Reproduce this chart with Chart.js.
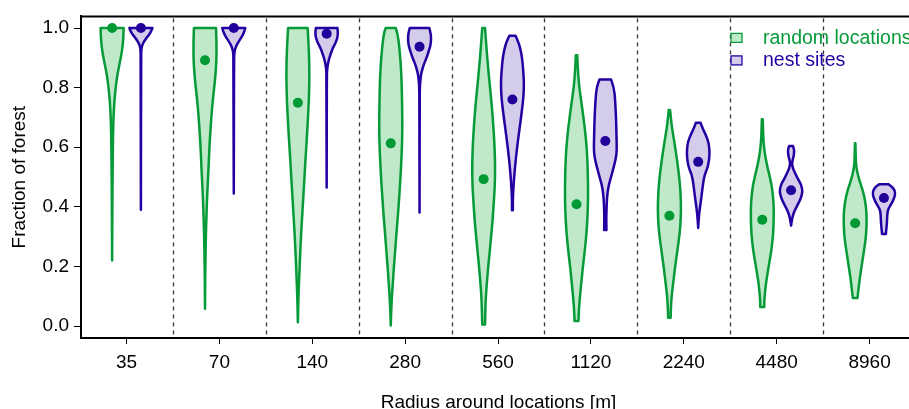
<!DOCTYPE html>
<html>
<head>
<meta charset="utf-8">
<script src="https://cdn.jsdelivr.net/npm/chart.js@4.4.1/dist/chart.umd.min.js"></script>
<style>
  html, body { margin: 0; padding: 0; background: #fff; overflow: hidden; }
  #wrap { position: relative; width: 909px; height: 409px; overflow: hidden; }
  #chart { position: absolute; left: 0; top: 0; }
</style>
</head>
<body>
<div id="wrap"><canvas id="chart" width="921" height="418"></canvas></div>
<script>
// Radius categories (x axis)
const radii = ['35', '70', '140', '280', '560', '1120', '2240', '4480', '8960'];
const yTicks = [0, 0.2, 0.4, 0.6, 0.8, 1.0];

// Medians (dots)
const randomMedians = [1.0, 0.892, 0.749, 0.613, 0.493, 0.409, 0.370, 0.357, 0.345];
const nestMedians = [1.0, 1.0, 0.981, 0.937, 0.760, 0.621, 0.551, 0.456, 0.430];

// Violin outlines: [fraction of forest, relative density], top to bottom
const randomProfiles = [
    [[1.0,1.0],[0.96,0.97],[0.92,0.85],[0.89,0.7],[0.866,0.57],[0.84,0.45],[0.81,0.34],[0.78,0.26],[0.755,0.2],[0.72,0.15],[0.70,0.12],[0.64,0.08],[0.55,0.05],[0.45,0.03],[0.35,0.015],[0.22,0.0]],
    [[1.0,0.96],[0.95,1.0],[0.9,1.0],[0.85,0.93],[0.8,0.8],[0.755,0.67],[0.7,0.55],[0.643,0.45],[0.59,0.37],[0.532,0.31],[0.47,0.23],[0.42,0.17],[0.36,0.12],[0.31,0.08],[0.25,0.05],[0.197,0.03],[0.13,0.01],[0.058,0.0]],
    [[1.0,0.85],[0.93,0.95],[0.866,1.0],[0.81,0.99],[0.755,0.95],[0.7,0.88],[0.643,0.8],[0.59,0.71],[0.532,0.62],[0.47,0.53],[0.42,0.45],[0.36,0.36],[0.309,0.28],[0.25,0.21],[0.197,0.15],[0.14,0.09],[0.086,0.04],[0.013,0.0]],
    [[1.0,0.44],[0.98,0.61],[0.93,0.76],[0.866,0.89],[0.81,0.95],[0.755,0.98],[0.7,1.0],[0.643,1.0],[0.59,0.96],[0.532,0.89],[0.47,0.8],[0.42,0.71],[0.36,0.6],[0.309,0.49],[0.25,0.38],[0.197,0.27],[0.14,0.17],[0.086,0.08],[0.04,0.03],[0.002,0.0]],
    [[1.0,0.12],[0.93,0.25],[0.866,0.39],[0.81,0.53],[0.755,0.67],[0.7,0.79],[0.643,0.89],[0.59,0.96],[0.532,1.0],[0.47,0.97],[0.42,0.89],[0.36,0.79],[0.309,0.67],[0.25,0.53],[0.197,0.39],[0.14,0.27],[0.086,0.17],[0.005,0.12]],
    [[0.909,0.06],[0.86,0.12],[0.81,0.21],[0.755,0.41],[0.7,0.6],[0.643,0.78],[0.59,0.9],[0.532,0.97],[0.47,1.0],[0.42,1.0],[0.36,0.95],[0.309,0.86],[0.25,0.71],[0.197,0.55],[0.14,0.4],[0.086,0.27],[0.05,0.2],[0.017,0.17]],
    [[0.725,0.06],[0.68,0.17],[0.643,0.32],[0.588,0.55],[0.532,0.75],[0.476,0.92],[0.42,1.0],[0.365,1.0],[0.309,0.89],[0.253,0.69],[0.197,0.49],[0.142,0.32],[0.086,0.15],[0.028,0.11]],
    [[0.694,0.04],[0.643,0.07],[0.588,0.17],[0.532,0.45],[0.476,0.81],[0.42,0.98],[0.365,1.0],[0.309,0.95],[0.253,0.79],[0.197,0.54],[0.142,0.31],[0.086,0.17],[0.064,0.17]],
    [[0.613,0.02],[0.56,0.05],[0.532,0.1],[0.5,0.28],[0.476,0.48],[0.45,0.7],[0.42,0.87],[0.39,0.96],[0.365,1.0],[0.309,0.97],[0.253,0.77],[0.197,0.54],[0.142,0.34],[0.094,0.2]]
];
const nestProfiles = [
    [[1.0,1.0],[0.99,0.9],[0.978,0.72],[0.968,0.5],[0.96,0.37],[0.95,0.2],[0.94,0.1],[0.93,0.04],[0.9,0.01],[0.39,0.0]],
    [[1.0,1.0],[0.99,0.93],[0.978,0.8],[0.965,0.6],[0.955,0.44],[0.945,0.28],[0.934,0.15],[0.92,0.06],[0.9,0.02],[0.445,0.0]],
    [[1.0,0.94],[0.98,1.0],[0.96,0.88],[0.945,0.7],[0.93,0.5],[0.911,0.33],[0.895,0.2],[0.878,0.1],[0.86,0.04],[0.844,0.015],[0.465,0.0]],
    [[1.0,0.85],[0.98,0.98],[0.965,1.0],[0.945,0.97],[0.93,0.86],[0.911,0.71],[0.895,0.55],[0.878,0.37],[0.86,0.23],[0.844,0.13],[0.82,0.06],[0.8,0.03],[0.755,0.01],[0.381,0.0]],
    [[0.974,0.27],[0.95,0.55],[0.922,0.74],[0.895,0.85],[0.866,0.92],[0.84,0.97],[0.81,1.0],[0.78,0.97],[0.755,0.92],[0.7,0.75],[0.643,0.55],[0.588,0.37],[0.532,0.22],[0.476,0.1],[0.42,0.03],[0.389,0.04]],
    [[0.827,0.51],[0.8,0.76],[0.755,0.86],[0.7,0.93],[0.643,0.97],[0.588,1.0],[0.56,0.9],[0.532,0.72],[0.5,0.5],[0.476,0.32],[0.45,0.2],[0.42,0.13],[0.365,0.08],[0.322,0.1]],
    [[0.682,0.2],[0.66,0.42],[0.643,0.64],[0.625,0.82],[0.61,0.93],[0.577,1.0],[0.543,0.89],[0.525,0.75],[0.51,0.59],[0.49,0.47],[0.465,0.38],[0.42,0.24],[0.376,0.07],[0.329,0.0]],
    [[0.604,0.17],[0.595,0.25],[0.582,0.27],[0.565,0.2],[0.548,0.07],[0.53,0.15],[0.51,0.38],[0.49,0.65],[0.476,0.86],[0.454,1.0],[0.435,0.9],[0.42,0.74],[0.4,0.48],[0.387,0.3],[0.37,0.15],[0.354,0.06],[0.337,0.0]],
    [[0.476,0.4],[0.465,0.8],[0.448,1.0],[0.43,0.9],[0.41,0.65],[0.398,0.45],[0.387,0.33],[0.37,0.28],[0.354,0.27],[0.33,0.22],[0.32,0.19],[0.309,0.17]]
];

const groups = [
    { label: 'random locations', profiles: randomProfiles, medians: randomMedians,
      offset: -0.155, stroke: '#069a38', fill: '#bfe9c9', dot: '#009933' },
    { label: 'nest sites', profiles: nestProfiles, medians: nestMedians,
      offset: 0.155, stroke: '#2400a2', fill: '#d3cceb', dot: '#22009a' }
];
const violinHalfWidth = 0.124;

Chart.defaults.font.family = "'Liberation Sans', Arial, sans-serif";
Chart.defaults.font.size = 19;
Chart.defaults.color = '#000';

// smooth one side of a violin through its points
function smoothSide(ctx, pts) {
    for (let i = 1; i < pts.length - 1; i++) {
        const mx = (pts[i][0] + pts[i + 1][0]) / 2;
        const my = (pts[i][1] + pts[i + 1][1]) / 2;
        ctx.quadraticCurveTo(pts[i][0], pts[i][1], mx, my);
    }
    ctx.lineTo(pts[pts.length - 1][0], pts[pts.length - 1][1]);
}

const violinPlugin = {
    id: 'violins',
    beforeDatasetsDraw(chart) {
        const ctx = chart.ctx;
        const xs = chart.scales.x, ys = chart.scales.y;
        const area = chart.chartArea;

        // dashed separators between radius groups
        ctx.save();
        ctx.strokeStyle = '#3a3a3a';
        ctx.lineWidth = 1.3;
        ctx.setLineDash([4, 4]);
        for (let i = 0; i < radii.length - 1; i++) {
            const x = Math.round(xs.getPixelForValue(i + 0.5)) + 0.5;
            ctx.beginPath();
            ctx.moveTo(x, area.top + 2);
            ctx.lineTo(x, area.bottom);
            ctx.stroke();
        }
        ctx.restore();

        const hw = xs.getPixelForValue(violinHalfWidth) - xs.getPixelForValue(0);
        groups.forEach(g => {
            g.profiles.forEach((prof, i) => {
                const cx = xs.getPixelForValue(i + g.offset);
                const right = prof.map(([v, d]) => [cx + d * hw, ys.getPixelForValue(v)]);
                const left = prof.map(([v, d]) => [cx - d * hw, ys.getPixelForValue(v)]).reverse();
                ctx.save();
                ctx.beginPath();
                ctx.moveTo(left[left.length - 1][0], left[left.length - 1][1]);
                ctx.lineTo(right[0][0], right[0][1]);
                smoothSide(ctx, right);
                ctx.lineTo(left[0][0], left[0][1]);
                smoothSide(ctx, left);
                ctx.closePath();
                ctx.fillStyle = g.fill;
                ctx.fill();
                ctx.lineWidth = 2.5;
                ctx.lineJoin = 'round';
                ctx.strokeStyle = g.stroke;
                ctx.stroke();
                ctx.restore();
            });
        });
    },
    afterDraw(chart) {
        const ctx = chart.ctx;
        const area = chart.chartArea;
        // top frame line
        ctx.save();
        ctx.strokeStyle = '#000';
        ctx.lineWidth = 2;
        ctx.beginPath();
        ctx.moveTo(area.left - 1, area.top);
        ctx.lineTo(area.right, area.top);
        ctx.stroke();

        // legend inside plot, top right
        const lx = area.right - 185;
        let ly = area.top + 17;
        ctx.font = "19.5px 'Liberation Sans', Arial, sans-serif";
        ctx.textBaseline = 'middle';
        groups.forEach(g => {
            ctx.fillStyle = g.fill;
            ctx.fillRect(lx, ly, 11, 9);
            ctx.strokeStyle = g.stroke;
            ctx.lineWidth = 1.3;
            ctx.strokeRect(lx, ly, 11, 9);
            ctx.fillStyle = g.stroke;
            ctx.fillText(g.label, lx + 32, ly + 5);
            ly += 22.5;
        });
        ctx.restore();
    }
};

const datasets = groups.map(g => ({
    label: g.label,
    data: g.medians.map((m, i) => ({ x: i + g.offset, y: m })),
    pointRadius: 5,
    pointBorderWidth: 0,
    pointBackgroundColor: g.dot,
    showLine: false
}));

new Chart(document.getElementById('chart'), {
    type: 'scatter',
    data: { datasets: datasets },
    plugins: [violinPlugin],
    options: {
        responsive: false,
        animation: false,
        devicePixelRatio: 1,
        layout: { padding: { top: 15, right: 2, bottom: 0, left: 0 } },
        plugins: { legend: { display: false }, tooltip: { enabled: false } },
        scales: {
            x: {
                type: 'linear',
                min: -0.49,
                max: 8.5,
                afterFit: (scale) => { scale.height = 80; },
                afterBuildTicks: (scale) => { scale.ticks = radii.map((r, i) => ({ value: i })); },
                ticks: {
                    padding: 7,
                    callback: (value) => radii[value]
                },
                grid: { drawOnChartArea: false, drawTicks: true, tickLength: 6, tickColor: '#000', tickWidth: 1 },
                border: { display: true, color: '#000', width: 2 },
                title: {
                    display: true,
                    text: 'Radius around locations [m]',
                    padding: { top: 0, bottom: 4 }
                }
            },
            y: {
                min: -0.04,
                max: 1.039,
                afterFit: (scale) => { scale.width = 81; },
                afterBuildTicks: (scale) => { scale.ticks = yTicks.map(v => ({ value: v })); },
                ticks: {
                    padding: 5,
                    callback: (value) => value.toFixed(1)
                },
                grid: { drawOnChartArea: false, drawTicks: true, tickLength: 7, tickColor: '#000', tickWidth: 1 },
                border: { display: true, color: '#000', width: 2 },
                title: {
                    display: true,
                    text: 'Fraction of forest',
                    padding: { top: 8, bottom: 0 }
                }
            }
        }
    }
});
</script>
</body>
</html>
